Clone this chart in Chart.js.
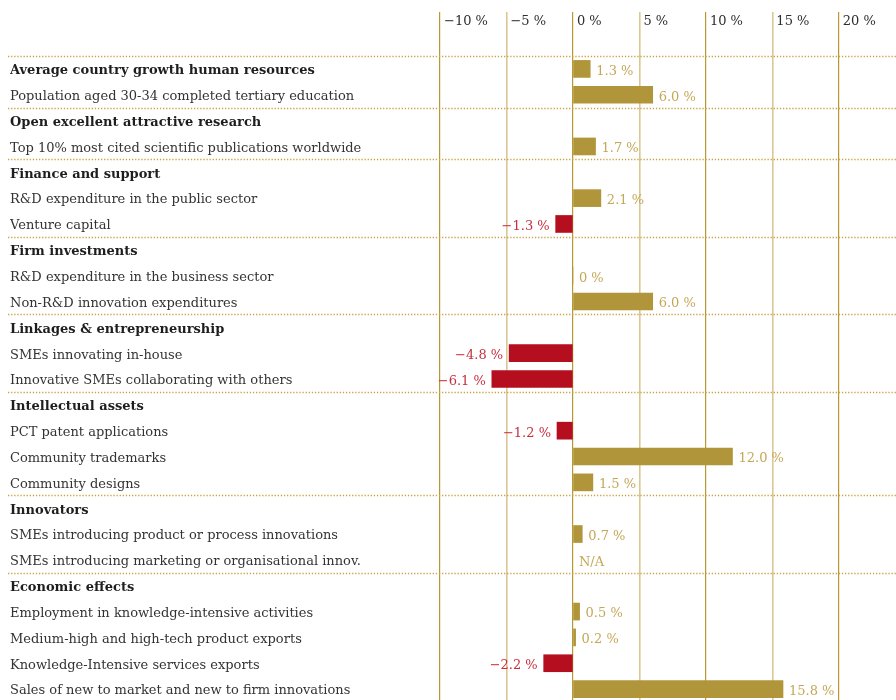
<!DOCTYPE html>
<html>
<head>
<meta charset="utf-8">
<script src="https://cdn.jsdelivr.net/npm/chart.js@4/dist/chart.umd.min.js"></script>
<style>
  html, body { margin: 0; padding: 0; background: #fff; }
  .frame { width: 896px; height: 700px; overflow: hidden; }
  .box { position: relative; width: 896px; height: 703px; }
</style>
</head>
<body>
<div class="frame"><div class="box"><canvas id="chart"></canvas></div></div>
<script>
const categories = [
  'Average country growth human resources',
  'Population aged 30-34 completed tertiary education',
  'Open excellent attractive research',
  'Top 10% most cited scientific publications worldwide',
  'Finance and support',
  'R&D expenditure in the public sector',
  'Venture capital',
  'Firm investments',
  'R&D expenditure in the business sector',
  'Non-R&D innovation expenditures',
  'Linkages & entrepreneurship',
  'SMEs innovating in-house',
  'Innovative SMEs collaborating with others',
  'Intellectual assets',
  'PCT patent applications',
  'Community trademarks',
  'Community designs',
  'Innovators',
  'SMEs introducing product or process innovations',
  'SMEs introducing marketing or organisational innov.',
  'Economic effects',
  'Employment in knowledge-intensive activities',
  'Medium-high and high-tech product exports',
  'Knowledge-Intensive services exports',
  'Sales of new to market and new to firm innovations'
];

// growth in %, null where there is no bar
const growth = [
  1.3, 6.0, null, 1.7, null, 2.1, -1.3, null, 0, 6.0, null, -4.8, -6.1,
  null, -1.2, 12.0, 1.5, null, 0.7, null, null, 0.5, 0.2, -2.2, 15.8
];

const groupHeaders = [
  'Average country growth human resources',
  'Open excellent attractive research',
  'Finance and support',
  'Firm investments',
  'Linkages & entrepreneurship',
  'Intellectual assets',
  'Innovators',
  'Economic effects'
];

const notAvailable = ['SMEs introducing marketing or organisational innov.'];

const xTicks = [-10, -5, 0, 5, 10, 15, 20];

const GOLD = '#b0953a';
const RED = '#b50e1e';
const GOLD_TEXT = '#c4a856';
const RED_TEXT = '#c72f3d';
const FONT = '"DejaVu Serif", serif';

const isHeader = (i) => groupHeaders.includes(categories[i]);

function fmt(v) {
  if (v === 0) return '0 %';
  const s = Math.abs(v).toFixed(1) + ' %';
  return v < 0 ? '\u2212' + s : s;
}

const separators = {
  id: 'separators',
  beforeDatasetsDraw(chart) {
    const { ctx, chartArea, scales } = chart;
    const rowH = (chartArea.bottom - chartArea.top) / categories.length;
    ctx.save();
    ctx.strokeStyle = '#c8a447';
    ctx.lineWidth = 1.4;
    ctx.setLineDash([1.3, 1.8]);
    categories.forEach((c, i) => {
      if (!isHeader(i)) return;
      const y = Math.round(scales.y.getPixelForValue(i) - rowH / 2) + 0.5;
      ctx.beginPath();
      ctx.moveTo(8, y);
      ctx.lineTo(chart.width, y);
      ctx.stroke();
    });
    ctx.restore();
  }
};

const valueLabels = {
  id: 'valueLabels',
  afterDatasetsDraw(chart) {
    const { ctx, scales } = chart;
    const zero = scales.x.getPixelForValue(0);
    ctx.save();
    ctx.font = '13px ' + FONT;
    ctx.textBaseline = 'middle';
    categories.forEach((c, i) => {
      const y = scales.y.getPixelForValue(i) + 2.5;
      const v = growth[i];
      if (v === null) {
        if (notAvailable.includes(c)) {
          ctx.fillStyle = GOLD_TEXT;
          ctx.textAlign = 'left';
          ctx.fillText('N/A', zero + 6, y);
        }
        return;
      }
      const end = scales.x.getPixelForValue(v);
      if (v < 0) {
        ctx.fillStyle = RED_TEXT;
        ctx.textAlign = 'right';
        ctx.fillText(fmt(v), end - 6, y);
      } else {
        ctx.fillStyle = GOLD_TEXT;
        ctx.textAlign = 'left';
        ctx.fillText(fmt(v), end + 6, y);
      }
    });
    ctx.restore();
  }
};

new Chart(document.getElementById('chart'), {
  type: 'bar',
  data: {
    labels: categories,
    datasets: [{
      data: growth,
      backgroundColor: growth.map(v => (v !== null && v < 0) ? RED : GOLD),
      barThickness: 17,
      borderWidth: 0
    }]
  },
  options: {
    indexAxis: 'y',
    responsive: true,
    maintainAspectRatio: false,
    animation: false,
    layout: { padding: { left: 10, right: 0, top: 0, bottom: 1 } },
    plugins: {
      legend: { display: false },
      tooltip: { enabled: false }
    },
    scales: {
      x: {
        position: 'top',
        min: -10,
        max: 24.3,
        afterBuildTicks(scale) {
          scale.ticks = xTicks.map(v => ({ value: v }));
        },
        afterFit(scale) {
          scale.height = 56;
          scale.paddingLeft = 0;
          scale.paddingRight = 0;
        },
        border: { display: false },
        grid: {
          tickLength: 44,
          lineWidth: (ctx) => (ctx.tick && ctx.tick.value % 10 === 0) ? 1.2 : 1.6,
          color: (ctx) => (ctx.tick && ctx.tick.value % 10 === 0) ? '#b89830' : '#dac792'
        },
        ticks: {
          align: 'start',
          labelOffset: 4,
          padding: -17,
          color: '#2e2e2e',
          font: { family: FONT, size: 13 },
          callback: (v) => (v < 0 ? '\u2212' + Math.abs(v) : v) + ' %'
        }
      },
      y: {
        afterFit(scale) {
          scale.width = 430;
          scale.paddingTop = 0;
          scale.paddingBottom = 0;
        },
        border: { display: false },
        grid: { display: false },
        ticks: {
          autoSkip: false,
          crossAlign: 'far',
          labelOffset: 2,
          color: (ctx) => isHeader(ctx.index) ? '#1e1e1e' : '#333',
          font: (ctx) => ({ family: FONT, size: 13, weight: isHeader(ctx.index) ? 'bold' : 'normal' })
        }
      }
    }
  },
  plugins: [separators, valueLabels]
});
</script>
</body>
</html>
